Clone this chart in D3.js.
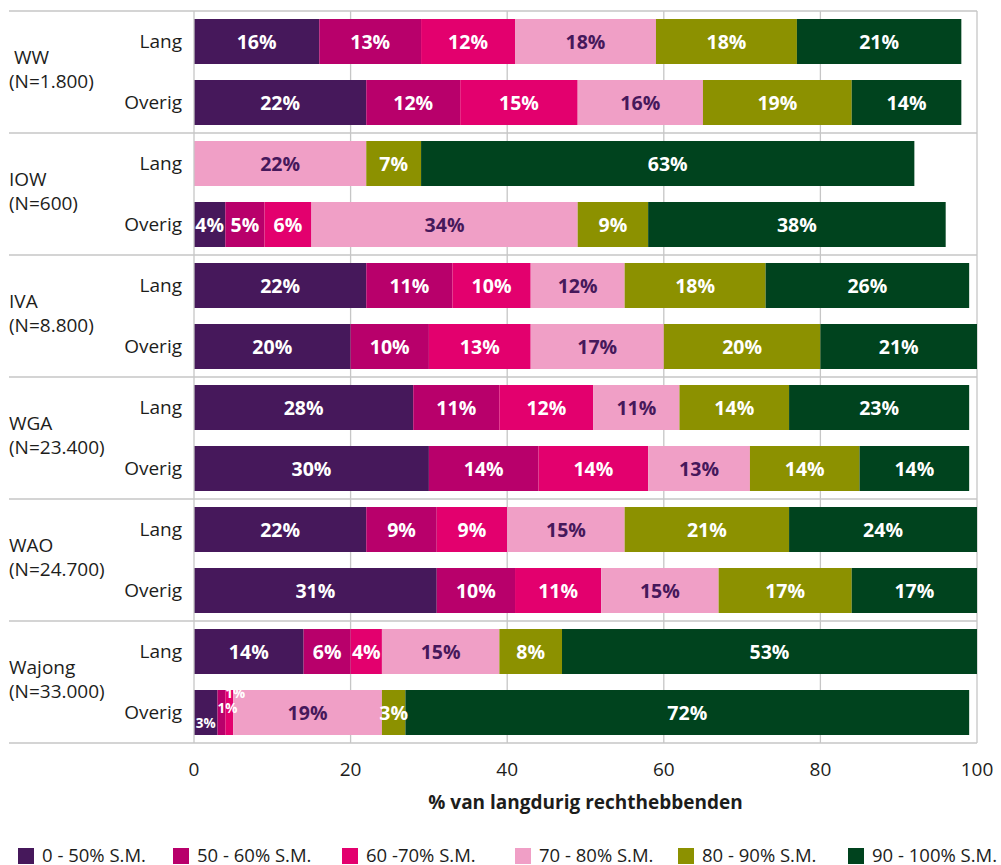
<!DOCTYPE html>
<html>
<head>
<meta charset="utf-8">
<script src="https://cdn.jsdelivr.net/npm/d3@7"></script>
<style>
  html, body { margin: 0; padding: 0; background: #fff; }
  svg { display: block; font-family: "Open Sans", "Noto Sans", sans-serif; }
</style>
</head>
<body>
<svg id="chart" width="1001" height="865"></svg>
<script>
// Benefit schemes (with population size) and the two groups per scheme
const groups = ["WW", "IOW", "IVA", "WGA", "WAO", "Wajong"];
const groupNotes = ["(N=1.800)", "(N=600)", "(N=8.800)", "(N=23.400)", "(N=24.700)", "(N=33.000)"];
const rows = ["Lang", "Overig"];

// Wage-loss bands (share of former wage, S.M.)
const bands = ["0 - 50% S.M.", "50 - 60% S.M.", "60 -70% S.M.", "70 - 80% S.M.", "80 - 90% S.M.", "90 - 100% S.M."];
const bandColors = ["#46185b", "#b8006b", "#e3006e", "#f09fc6", "#8c9100", "#00431e"];
const bandTextColors = ["#fff", "#fff", "#fff", "#46185b", "#fff", "#fff"];

// Percentages per band, one array per scheme: [Lang, Overig]
const wwValues     = [[16, 13, 12, 18, 18, 21], [22, 12, 15, 16, 19, 14]];
const iowValues    = [[0, 0, 0, 22, 7, 63],     [4, 5, 6, 34, 9, 38]];
const ivaValues    = [[22, 11, 10, 12, 18, 26], [20, 10, 13, 17, 20, 21]];
const wgaValues    = [[28, 11, 12, 11, 14, 23], [30, 14, 14, 13, 14, 14]];
const waoValues    = [[22, 9, 9, 15, 21, 24],   [31, 10, 11, 15, 17, 17]];
const wajongValues = [[14, 6, 4, 15, 8, 53],    [3, 1, 1, 19, 3, 72]];
const groupValues = [wwValues, iowValues, ivaValues, wgaValues, waoValues, wajongValues];

const xTicks = [0, 20, 40, 60, 80, 100];
const xTitle = "% van langdurig rechthebbenden";

const svg = d3.select("#chart");
const textColor = "#1d1d1b";
const lineColor = "#c6c6c6";
const fontSize = 19;

const x = d3.scaleLinear().domain([0, 100]).range([194, 977]).clamp(true);
const y = d3.scaleBand().domain(groups).range([11, 743]);
const yRow = d3.scaleBand().domain(rows).range([0, y.bandwidth()])
  .paddingInner(16 / 61).paddingOuter(8 / 61);

// Build stacked segments
const segments = [];
groups.forEach((g, gi) => {
  rows.forEach((r, ri) => {
    let cum = 0;
    groupValues[gi][ri].forEach((v, bi) => {
      segments.push({ group: g, row: r, band: bi, value: v, x0: cum, x1: cum + v });
      cum += v;
    });
  });
});

// Gridlines
svg.append("g").selectAll("line").data(xTicks.slice(1))
  .join("line")
  .attr("x1", d => x(d)).attr("x2", d => x(d))
  .attr("y1", 11).attr("y2", 743)
  .attr("stroke", lineColor).attr("stroke-width", 1.3);

// Bars
const bars = svg.append("g");
bars.selectAll("rect").data(segments.filter(s => s.value > 0))
  .join("rect")
  .attr("x", d => x(d.x0))
  .attr("width", d => x(d.x1) - x(d.x0))
  .attr("y", d => y(d.group) + yRow(d.row))
  .attr("height", yRow.bandwidth())
  .attr("fill", d => bandColors[d.band]);

// Frame: left axis line and group separators
svg.append("line").attr("x1", 194).attr("x2", 194).attr("y1", 11).attr("y2", 743)
  .attr("stroke", lineColor).attr("stroke-width", 1.3);
svg.append("g").selectAll("line").data(groups.map(g => y(g)).concat([743]))
  .join("line")
  .attr("x1", 9).attr("x2", 977)
  .attr("y1", d => d).attr("y2", d => d)
  .attr("stroke", lineColor).attr("stroke-width", 1.3);

// Value labels
const labelSize = 19.5;
const smallSize = 13.5;
const labels = svg.append("g").attr("font-weight", 700);
groups.forEach((g, gi) => {
  rows.forEach((r, ri) => {
    const segs = segments.filter(s => s.group === g && s.row === r && s.value > 0);
    const cy = y(g) + yRow(r) + yRow.bandwidth() / 2;
    // a run of tiny leading segments gets small, staggered labels
    const tiny = segs.filter(s => s.value <= 3 && segs.indexOf(s) < 3 && segs.filter(t => t.value <= 3).length >= 3);
    segs.forEach(s => {
      const isTiny = tiny.includes(s);
      const t = labels.append("text")
        .attr("font-size", isTiny ? smallSize : labelSize)
        .attr("fill", bandTextColors[s.band])
        .attr("dy", "0.36em")
        .text(s.value + "%");
      const x0 = x(s.x0), x1 = x(s.x1);
      if (isTiny) {
        const k = tiny.indexOf(s);
        const tw = t.node().getComputedTextLength();
        t.attr("x", x0 + Math.max(0, (x1 - x0 - tw) / 2))
         .attr("y", cy + 11 - k * 15);
      } else {
        t.attr("text-anchor", "middle").attr("x", (x0 + x1) / 2).attr("y", cy);
      }
    });
  });
});

// Row labels
svg.append("g").selectAll("text")
  .data(groups.flatMap(g => rows.map(r => ({ g, r }))))
  .join("text")
  .attr("x", 182)
  .attr("y", d => y(d.g) + yRow(d.r) + yRow.bandwidth() / 2)
  .attr("dy", "0.36em")
  .attr("text-anchor", "end")
  .attr("font-size", fontSize)
  .attr("fill", textColor)
  .text(d => d.r);

// Group labels (name + population)
const gl = svg.append("g").attr("font-size", fontSize).attr("fill", textColor);
groups.forEach((g, gi) => {
  const cy = y(g) + y.bandwidth() / 2;
  gl.append("text").attr("x", gi === 0 ? 14 : 9).attr("y", cy - 8).text(g);
  gl.append("text").attr("x", 9).attr("y", cy + 16).text(groupNotes[gi]);
});

// X axis tick labels
svg.append("g").selectAll("text").data(xTicks)
  .join("text")
  .attr("x", d => x(d)).attr("y", 776)
  .attr("text-anchor", "middle")
  .attr("font-size", fontSize)
  .attr("fill", textColor)
  .text(d => d);

// X axis title
svg.append("text")
  .attr("x", (x(0) + x(100)) / 2).attr("y", 809)
  .attr("text-anchor", "middle")
  .attr("font-size", fontSize).attr("font-weight", 700)
  .attr("fill", textColor)
  .text(xTitle);

// Legend
const legendX = [18, 173, 342, 515, 678, 848];
const legend = svg.append("g").selectAll("g").data(bands)
  .join("g")
  .attr("transform", (d, i) => `translate(${legendX[i]},848)`);
legend.append("rect").attr("width", 16).attr("height", 16)
  .attr("fill", (d, i) => bandColors[i]);
legend.append("text").attr("x", 24).attr("y", 14)
  .attr("font-size", 18.5).attr("fill", textColor)
  .text(d => d);
</script>
</body>
</html>
